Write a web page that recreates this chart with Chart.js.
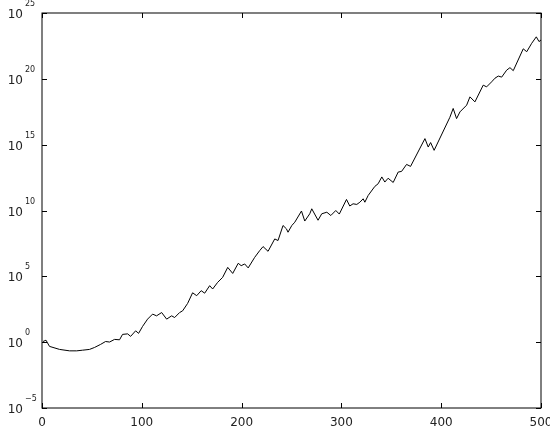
<!DOCTYPE html>
<html>
<head>
<meta charset="utf-8">
<script src="https://cdn.jsdelivr.net/npm/chart.js@4/dist/chart.umd.min.js"></script>
<style>
  body { margin: 0; background: #fff; }
  #wrap { width: 550px; height: 432px; }
</style>
</head>
<body>
<div id="wrap"><canvas id="myChart" width="550" height="432"></canvas></div>
<script>
// step index
const steps = [1, 4, 7.5, 17.6, 27.6, 34.7, 40.6, 47.6, 52.7, 58.7, 63.7, 67.7, 72.7, 77.7, 80.7, 85.8, 88.8, 93.8, 96.8, 100.8,
  105.8, 110.8, 114.8, 119.9, 124.9, 129.9, 132.9, 137.9, 140.9, 145.9, 150.9, 155, 159.5, 163, 168, 171, 176, 181, 186.1, 191.1,
  196.6, 199.6, 203.1, 206.6, 213.1, 218.1, 221.5, 226.5, 233.2, 236.5, 241.5, 244.9, 246.5, 250.3, 253.3, 260, 263.3, 268.3, 270.3, 276.6,
  280.3, 285.4, 289.4, 294.4, 297.9, 305.1, 308.4, 311.7, 315.4, 318.5, 321.8, 323.5, 326.8, 333.5, 336.8, 340.5, 343.5, 346.8, 351.9, 356.9,
  360.3, 365.3, 369.3, 383.7, 387, 389.4, 392.9, 408.7, 412, 415.4, 418.8, 425.5, 428.8, 433.8, 442.1, 445.5, 450.5, 453.9, 457.2, 460.6,
  465.6, 468.9, 472.2, 482.2, 485.7, 490.7, 495.3, 498, 500];

// decade exponent of each value (value = 10^exponent)
const exponents = [0.05, 0.15, -0.32, -0.55, -0.66, -0.66, -0.61, -0.55, -0.40, -0.17, 0.05, 0.01, 0.21, 0.18, 0.59, 0.63, 0.44, 0.86, 0.67, 1.20,
  1.75, 2.13, 2.00, 2.25, 1.75, 2.00, 1.87, 2.25, 2.38, 2.94, 3.75, 3.53, 3.91, 3.72, 4.29, 4.04, 4.54, 4.92, 5.68, 5.22,
  5.99, 5.81, 5.94, 5.64, 6.44, 6.95, 7.26, 6.90, 7.84, 7.72, 8.86, 8.61, 8.35, 8.86, 9.11, 9.96, 9.20, 9.75, 10.13, 9.26,
  9.75, 9.87, 9.62, 10.0, 9.73, 10.84, 10.34, 10.51, 10.46, 10.63, 10.89, 10.63, 11.14, 11.83, 12.03, 12.55, 12.16, 12.45, 12.13, 12.92,
  12.97, 13.50, 13.35, 15.46, 14.82, 15.16, 14.57, 17.08, 17.75, 16.98, 17.49, 18.00, 18.63, 18.25, 19.52, 19.39, 19.77, 20.05, 20.21, 20.13,
  20.66, 20.85, 20.62, 22.28, 22.06, 22.70, 23.19, 22.83, 22.95];

const xTicks = [0, 100, 200, 300, 400, 500];
const yTickExps = [-5, 0, 5, 10, 15, 20, 25];

const ctx = document.getElementById('myChart');
const fontName = '"DejaVu Sans", sans-serif';

const points = steps.map((s, i) => ({ x: s, y: Math.pow(10, exponents[i]) }));

// box, inward ticks and 10^n labels, drawn from the scales
const axesBox = {
  id: 'axesBox',
  afterDraw(chart) {
    const c = chart.ctx;
    const xs = chart.scales.x;
    const ys = chart.scales.y;
    const { left, right, top, bottom } = chart.chartArea;
    const tl = 5;
    c.save();
    c.strokeStyle = '#000';
    c.lineWidth = 1;
    c.strokeRect(left, top, right - left, bottom - top);
    c.beginPath();
    xTicks.forEach(t => {
      const px = Math.round(xs.getPixelForValue(t)) + 0.5;
      c.moveTo(px, bottom); c.lineTo(px, bottom - tl);
      c.moveTo(px, top); c.lineTo(px, top + tl);
    });
    yTickExps.forEach(e => {
      const py = Math.round(ys.getPixelForValue(Math.pow(10, e))) + 0.5;
      c.moveTo(left, py); c.lineTo(left + tl, py);
      c.moveTo(right, py); c.lineTo(right - tl, py);
    });
    c.stroke();

    c.fillStyle = '#222';
    c.font = '12px ' + fontName;
    c.textAlign = 'center';
    c.textBaseline = 'top';
    xTicks.forEach(t => {
      c.fillText(String(t), xs.getPixelForValue(t), bottom + 9);
    });
    yTickExps.forEach(e => {
      const py = ys.getPixelForValue(Math.pow(10, e));
      c.font = '12px ' + fontName;
      c.textAlign = 'right';
      c.textBaseline = 'middle';
      c.fillText('10', left - 19, py + 2);
      c.font = '8px ' + fontName;
      c.textAlign = 'left';
      c.fillText(e < 0 ? '\u2212' + Math.abs(e) : String(e), left - 17, py - 9);
    });
    c.restore();
  }
};

new Chart(ctx, {
  type: 'line',
  data: {
    datasets: [{
      data: points,
      borderColor: '#000',
      borderWidth: 1,
      pointRadius: 0,
      tension: 0,
      fill: false
    }]
  },
  options: {
    responsive: false,
    animation: false,
    layout: { padding: { left: 42, right: 9, top: 13, bottom: 24 } },
    plugins: { legend: { display: false }, tooltip: { enabled: false } },
    scales: {
      x: { type: 'linear', min: 0, max: 500, display: false },
      y: { type: 'logarithmic', min: 1e-5, max: 1e25, display: false }
    }
  },
  plugins: [axesBox]
});
</script>
</body>
</html>
